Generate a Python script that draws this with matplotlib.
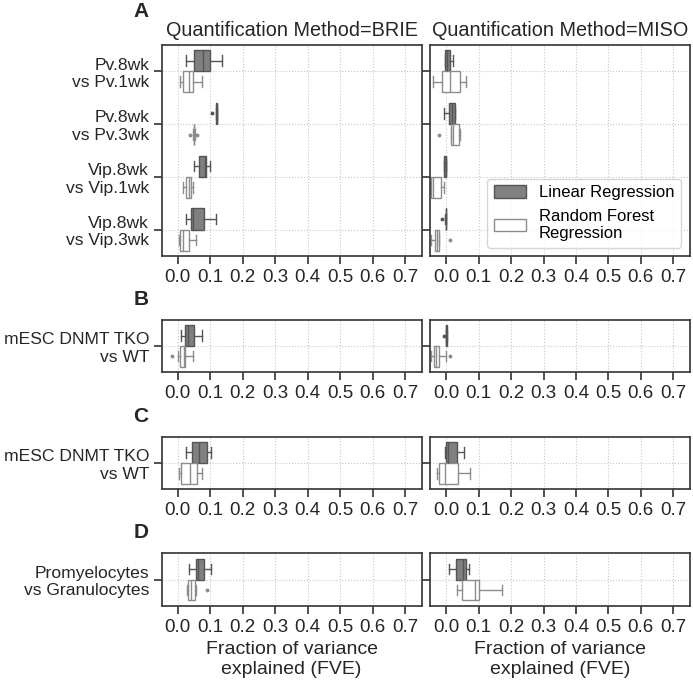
import matplotlib
matplotlib.use("Agg")
import matplotlib.pyplot as plt
from matplotlib.patches import Patch

plt.rcParams['font.family'] = ['Liberation Sans', 'DejaVu Sans']
plt.rcParams['font.size'] = 13.5

# category labels
comparisons_a = ["Pv.8wk\nvs Pv.1wk", "Pv.8wk\nvs Pv.3wk", "Vip.8wk\nvs Vip.1wk", "Vip.8wk\nvs Vip.3wk"]
comparisons_b = ["mESC DNMT TKO\nvs WT"]
comparisons_c = ["mESC DNMT TKO\nvs WT"]
comparisons_d = ["Promyelocytes\nvs Granulocytes"]
methods = ["BRIE", "MISO"]
models = ["Linear Regression", "Random Forest\nRegression"]

# box summaries: [whislo, q1, median, q3, whishi] per comparison
brie_lr_a = [[0.026, 0.051, 0.079, 0.098, 0.135], [0.117, 0.118, 0.120, 0.121, 0.122],
             [0.051, 0.066, 0.084, 0.087, 0.100], [0.026, 0.040, 0.046, 0.081, 0.117]]
brie_rf_a = [[0.008, 0.017, 0.036, 0.046, 0.075], [0.048, 0.049, 0.050, 0.051, 0.052],
             [0.015, 0.025, 0.036, 0.041, 0.046], [0.003, 0.008, 0.016, 0.036, 0.056]]
miso_lr_a = [[-0.005, -0.003, 0.002, 0.012, 0.020], [-0.007, 0.009, 0.017, 0.026, 0.028],
             [-0.008, -0.006, -0.002, -0.001, 0.000], [-0.003, -0.002, -0.001, 0.000, 0.000]]
miso_rf_a = [[-0.042, -0.013, 0.011, 0.043, 0.060], [0.015, 0.015, 0.020, 0.040, 0.044],
             [-0.050, -0.048, -0.040, -0.016, -0.007], [-0.046, -0.036, -0.029, -0.022, -0.022]]
brie_lr_b = [[0.011, 0.021, 0.031, 0.049, 0.074]]
brie_rf_b = [[0.000, 0.008, 0.018, 0.022, 0.046]]
miso_lr_b = [[-0.002, -0.001, 0.000, 0.001, 0.002]]
miso_rf_b = [[-0.046, -0.039, -0.030, -0.021, -0.001]]
brie_lr_c = [[0.026, 0.045, 0.066, 0.089, 0.101]]
brie_rf_c = [[0.005, 0.011, 0.037, 0.060, 0.074]]
miso_lr_c = [[-0.004, 0.000, 0.004, 0.033, 0.055]]
miso_rf_c = [[-0.029, -0.021, -0.005, 0.036, 0.074]]
brie_lr_d = [[0.034, 0.056, 0.063, 0.080, 0.102]]
brie_rf_d = [[0.028, 0.033, 0.040, 0.054, 0.056]]
miso_lr_d = [[0.009, 0.029, 0.053, 0.061, 0.071]]
miso_rf_d = [[0.033, 0.050, 0.090, 0.101, 0.173]]

# outliers per comparison
brie_lr_a_fl = [[], [0.104], [], []]
brie_rf_a_fl = [[], [0.037, 0.059], [], []]
miso_lr_a_fl = [[], [], [], [-0.013]]
miso_rf_a_fl = [[], [-0.021], [], [0.011]]
brie_rf_b_fl = [[-0.017]]
miso_lr_b_fl = [[-0.006]]
miso_rf_b_fl = [[0.011]]
brie_rf_d_fl = [[0.089]]

panels = [
    ("A", comparisons_a, {"BRIE": (brie_lr_a, brie_rf_a, brie_lr_a_fl, brie_rf_a_fl),
                          "MISO": (miso_lr_a, miso_rf_a, miso_lr_a_fl, miso_rf_a_fl)}),
    ("B", comparisons_b, {"BRIE": (brie_lr_b, brie_rf_b, [[]], brie_rf_b_fl),
                          "MISO": (miso_lr_b, miso_rf_b, miso_lr_b_fl, miso_rf_b_fl)}),
    ("C", comparisons_c, {"BRIE": (brie_lr_c, brie_rf_c, [[]], [[]]),
                          "MISO": (miso_lr_c, miso_rf_c, [[]], [[]])}),
    ("D", comparisons_d, {"BRIE": (brie_lr_d, brie_rf_d, [[]], brie_rf_d_fl),
                          "MISO": (miso_lr_d, miso_rf_d, [[]], [[]])}),
]

W, H = 693, 680
fig = plt.figure(figsize=(W / 100, H / 100), dpi=100)

col_x = [161.5, 430]
col_w = [260, 259.5]
rows = [(44.7, 256), (320, 371.7), (436.7, 489), (553.3, 605.7)]
letter_y = [11.5, 299.5, 416.5, 532.5]

fill = {"lr": "#808080", "rf": "white"}
line_col = {"lr": "#555555", "rf": "#8c8c8c"}
spine_col = "#3a3a3a"


def stats_from(summ, fl):
    out = []
    for s, f in zip(summ, fl):
        out.append(dict(whislo=s[0], q1=s[1], med=s[2], q3=s[3], whishi=s[4], fliers=f))
    return out


for r, (letter, cats, data) in enumerate(panels):
    top, bot = rows[r]
    for c, m in enumerate(methods):
        ax = fig.add_axes([col_x[c] / W, 1 - bot / H, col_w[c] / W, (bot - top) / H])
        lr, rf, lr_fl, rf_fl = data[m]
        n = len(cats)
        for key, summ, fl, off in [("lr", lr, lr_fl, -0.2), ("rf", rf, rf_fl, 0.2)]:
            lc = line_col[key]
            ax.bxp(stats_from(summ, fl), positions=[i + off for i in range(n)], widths=0.4,
                   vert=False, patch_artist=True, manage_ticks=False,
                   boxprops=dict(facecolor=fill[key], edgecolor=lc, linewidth=1.0),
                   whiskerprops=dict(color=lc, linewidth=1.0),
                   capprops=dict(color=lc, linewidth=1.0),
                   medianprops=dict(color=lc, linewidth=1.0),
                   flierprops=dict(marker="o", markersize=1.8, markerfacecolor=lc,
                                   markeredgecolor=lc))
        ax.set_xlim(-0.05, 0.75)
        ax.set_ylim(n - 0.5, -0.5)
        ax.set_xticks([0.0, 0.1, 0.2, 0.3, 0.4, 0.5, 0.6, 0.7])
        ax.set_xticklabels(["0.0", "0.1", "0.2", "0.3", "0.4", "0.5", "0.6", "0.7"])
        ax.set_yticks(range(n))
        if c == 0:
            ax.set_yticklabels(cats, fontsize=12.6)
        else:
            ax.set_yticklabels([])
        ax.grid(True, linestyle=":", color="#c8c8c8", linewidth=0.8)
        ax.set_axisbelow(True)
        ax.tick_params(axis="both", direction="out", length=6, width=1.25,
                       color=spine_col, labelcolor="#262626", labelsize=13.5)
        ax.tick_params(axis="y", labelsize=12.6, pad=3)
        for sp in ax.spines.values():
            sp.set_color(spine_col)
            sp.set_linewidth(1.25)
        if r == 0:
            ax.set_title("Quantification Method=" + m, fontsize=14.3, color="#262626", pad=6)
        if r == len(panels) - 1:
            ax.set_xlabel("Fraction of variance\nexplained (FVE)", fontsize=14,
                          color="#262626", labelpad=4)
        if r == 0 and c == 1:
            handles = [Patch(facecolor=fill["lr"], edgecolor=line_col["lr"]),
                       Patch(facecolor=fill["rf"], edgecolor=line_col["rf"])]
            ax.legend(handles, models, loc="lower right", fontsize=12,
                      handlelength=1.9, handleheight=0.75, frameon=True)
    fig.text(141 / W, 1 - letter_y[r] / H, letter, fontsize=15, fontweight="bold",
             ha="center", va="center", color="#262626")

fig.savefig("out.png", dpi=100)
